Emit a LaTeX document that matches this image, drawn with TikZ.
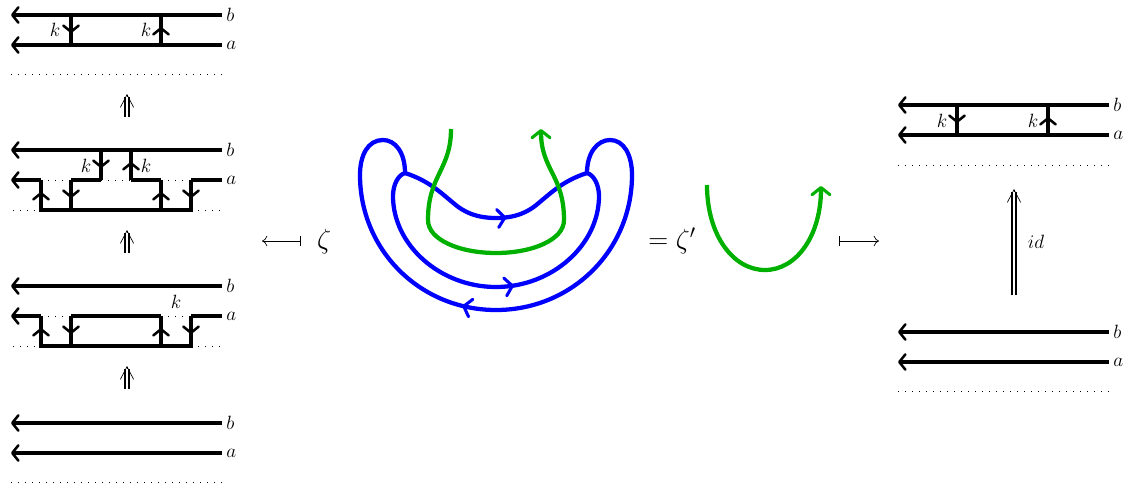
\documentclass[tikz,border=0pt]{standalone}
\usepackage{amsmath, amssymb}
\usepackage{xcolor}
\usepackage{tikz}
\usetikzlibrary{arrows.meta,decorations.markings}
\definecolor{strandblue}{RGB}{0,0,255}
\definecolor{strandgreen}{RGB}{0,176,0}
\tikzset{
  >={Straight Barb[length=4.6pt,width=11.5pt,line width=1.9pt,round]},
  strand/.style={line width=2.4pt},
  lab/.style={inner sep=3pt, font=\fontsize{13.5}{15}\selectfont},
  biglab/.style={inner sep=0pt, font=\fontsize{20}{23}\selectfont},
  dots/.style={line width=0.5pt, dash pattern=on 0.7pt off 4.55pt},
  rung/.style={strand, postaction={decorate}, decoration={markings, mark=at position 0.6 with {\arrow{>}}}},
  curveb/.style={line width=3.2pt, strandblue},
  curveg/.style={line width=3.2pt, strandgreen},
  bigtip/.tip={Straight Barb[length=5.4pt,width=13.5pt,line width=2.3pt,round]},
  markat/.style={postaction={decorate}, decoration={markings, mark=at position #1 with {\arrow{bigtip}}}},
  implieshead/.style={line width=0.5pt, -{Straight Barb[length=9.5pt,width=10pt]}},
  implies/.style={double, double distance=1.5pt, line width=1.5pt, shorten >=2pt},
  mapstyle/.style={line width=0.5pt, {Bar[width=7pt]}-{Computer Modern Rightarrow[length=4pt,width=8pt]}}
}
\begin{document}
\begin{tikzpicture}[x=0.75pt, y=-0.75pt]
  \useasboundingbox (0,0) rectangle (1129,485);
  % Strands b and a
  \foreach \i/\x/\y in {1/11/15, 2/11/150, 3/11/286, 4/11/423, 5/898/105, 6/898/332} {
    \node[lab, anchor=west] (b\i) at ({\x+211},\y) {$b$};
    \node[lab, anchor=west] (a\i) at ({\x+211},{\y+30}) {$a$};
    \coordinate (bl\i) at (\x,\y);
    \coordinate (al\i) at (\x,{\y+30});
    \draw[strand, ->] (b\i.west) -- (bl\i);
  }
  \foreach \i in {1,4,5,6} {
    \draw[strand, ->] (a\i.west) -- (al\i);
  }
  % Dotted lines
  \foreach \x/\y/\w in {11/74/211, 11/482/211, 898/165/211, 898/391/211, 13/210/28, 191/210/31, 13/346/28, 191/346/31, 41/180/30, 101/180/30, 161/180/30, 41/316/30, 161/316/30} {
    \coordinate (dl) at (\x,\y);
    \coordinate (dr) at ({\x+\w},\y);
    \draw[dots] (dl) -- (dr);
  }
  % Rungs, top pictures
  \foreach \x/\s in {71/1, 957/5} {
    \coordinate (tp) at (\x,{\s==1 ? 15 : 105});
    \coordinate (bt) at (\x,{\s==1 ? 45 : 135});
    \draw[rung] (tp) -- (bt);
  }
  \foreach \x/\s in {161/1, 1048/5} {
    \coordinate (tp) at (\x,{\s==1 ? 15 : 105});
    \coordinate (bt) at (\x,{\s==1 ? 45 : 135});
    \draw[rung] (bt) -- (tp);
  }
  % Second picture
  \foreach \x in {41,71,101,131,161,191} {
    \coordinate (t\x) at (\x,150);
    \coordinate (m\x) at (\x,180);
    \coordinate (d\x) at (\x,210);
    \coordinate (n\x) at (\x,316);
    \coordinate (e\x) at (\x,346);
  }
  \draw[strand, ->] (m41) -- (al2);
  \draw[strand] (a2.west) -- (m191);
  \draw[strand] (m71) -- (m101);
  \draw[strand] (m131) -- (m161);
  \draw[strand, line cap=rect] (d41) -- (d191);
  \draw[rung] (d41) -- (m41);
  \draw[rung] (m71) -- (d71);
  \draw[rung] (t101) -- (m101);
  \draw[rung] (m131) -- (t131);
  \draw[rung] (d161) -- (m161);
  \draw[rung] (m191) -- (d191);
  % Third picture
  \draw[strand, ->] (n41) -- (al3);
  \draw[strand] (a3.west) -- (n191);
  \draw[strand] (n71) -- (n161);
  \draw[strand, line cap=rect] (e41) -- (e191);
  \draw[rung] (e41) -- (n41);
  \draw[rung] (n71) -- (e71);
  \draw[rung] (e161) -- (n161);
  \draw[rung] (n191) -- (e191);
  % Labels k
  \foreach \i/\x/\y in {1/55/30, 2/146/30, 3/86/166, 4/146/166, 5/176/302, 6/942/121, 7/1033/121} {
    \node[lab] (k\i) at (\x,\y) {$k$};
  }
  % Double arrows
  \foreach \i/\y in {1/117, 2/253, 3/389} {
    \coordinate (ia\i) at (127,\y);
    \coordinate (ib\i) at (127,{\y-23});
    \draw[implieshead] (ia\i) -- (ib\i);
    \draw[implies] (ia\i) -- (ib\i);
  }
  \coordinate (ia4) at (1014,295);
  \coordinate (ib4) at (1014,189);
  \draw[implieshead] (ia4) -- (ib4);
  \draw[implies] (ia4) -- (ib4);
  \node[lab, font=\fontsize{15}{17}\selectfont] (id) at (1036,242) {$id$};
  % Maps
  \coordinate (mfa) at (301,241);
  \coordinate (mfb) at (262,241);
  \draw[mapstyle] (mfa) -- (mfb);
  \coordinate (mta) at (839,241);
  \coordinate (mtb) at (879,241);
  \draw[mapstyle] (mta) -- (mtb);
  \node[biglab] (zeta) at (324,242) {$\zeta$};
  \node[biglab] (eqz) at (672,241) {$=\zeta'$};
  % Blue curves
  \coordinate (jl) at (405,173);
  \coordinate (jr) at (587,173);
  \coordinate (ol) at (360,175);
  \coordinate (or) at (632,175);
  \coordinate (il) at (393,196);
  \coordinate (ir) at (599,196);
  \coordinate (ml) at (457,206);
  \coordinate (mr) at (535,206);
  \draw[curveb] (jr) .. controls (587,152) and (598,140) .. (610,140) .. controls (624,140) and (632,155) .. (or);
  \draw[curveb, markat=0.58] (or) .. controls (632,250) and (572,310) .. (496,310) .. controls (420,310) and (360,250) .. (ol);
  \draw[curveb] (ol) .. controls (360,155) and (368,140) .. (383,140) .. controls (395,140) and (405,152) .. (jl);
  \draw[curveb, markat=0.55] (jl) .. controls (398,175) and (393,185) .. (il) .. controls (393,245) and (440,287) .. (496,287) .. controls (552,287) and (599,245) .. (ir) .. controls (599,185) and (594,175) .. (jr);
  \draw[curveb, markat=0.55] (jl) .. controls (430,181) and (442,194) .. (ml) .. controls (470,216) and (484,218) .. (496,218) .. controls (508,218) and (522,216) .. (mr) .. controls (550,194) and (562,181) .. (jr);
  % Green curves
  \coordinate (ga) at (451,129);
  \coordinate (gb) at (541,129);
  \coordinate (gc) at (707,185);
  \coordinate (gd) at (821,186);
  \draw[curveg, -bigtip] (ga) .. controls (451,170) and (428,175) .. (428,220) .. controls (428,240) and (460,253) .. (496,253) .. controls (532,253) and (564,240) .. (564,220) .. controls (564,175) and (541,170) .. (gb);
  \draw[curveg, -bigtip] (gc) .. controls (707,235) and (733,270) .. (765,270) .. controls (797,270) and (821,235) .. (gd);
\end{tikzpicture}
\end{document}
